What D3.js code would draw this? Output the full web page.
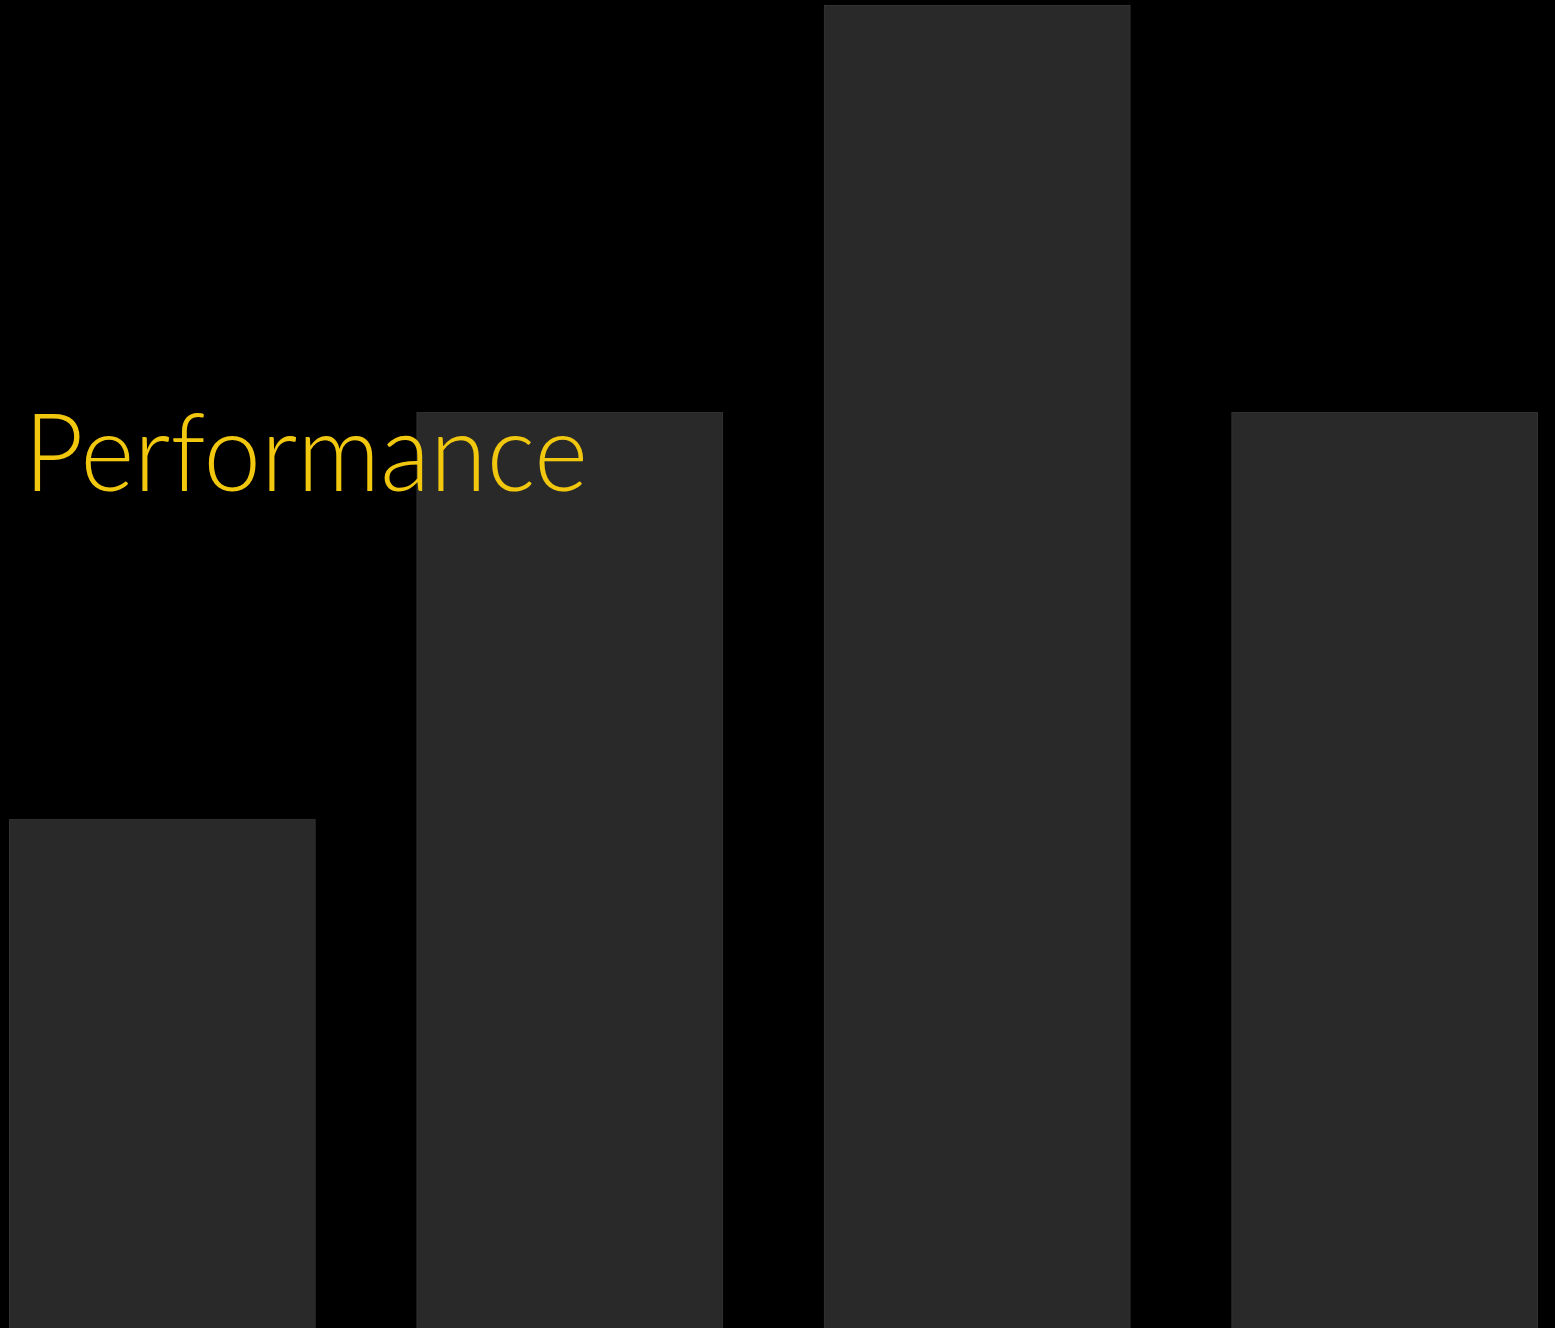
<!DOCTYPE html>
<html>
<head>
<meta charset="utf-8">
<script src="https://cdn.jsdelivr.net/npm/d3@7"></script>
<style>
  html, body { margin: 0; padding: 0; background: #000; overflow: hidden; }
  svg { display: block; }
</style>
</head>
<body>
<svg id="chart" width="1555" height="1328"></svg>
<script>
const categories = ["A", "B", "C", "D"];
const values = [2.5, 4.5, 6.5, 4.5];
const title = "Performance";

const W = 1555, H = 1328;
const svg = d3.select("#chart");
svg.append("rect").attr("width", W).attr("height", H).attr("fill", "#000");

const x = d3.scaleBand().domain(categories).range([9.5, 1537.5]).paddingInner(0.25).paddingOuter(0);
const y = d3.scaleLinear().domain([0, d3.max(values)]).range([H + 0.5, 5.5]);

svg.append("g").selectAll("rect")
  .data(categories.map((c, i) => ({ c, v: values[i] })))
  .join("rect")
  .attr("x", d => x(d.c))
  .attr("y", d => y(d.v))
  .attr("width", x.bandwidth())
  .attr("height", d => y(0) - y(d.v))
  .attr("fill", "#292929")
  .attr("stroke", "#333")
  .attr("stroke-width", 1);

const t = svg.append("text")
  .attr("x", 24)
  .attr("y", 491)
  .attr("fill", "#F2C80F")
  .style("font-family", "Lato, 'Open Sans', sans-serif")
  .style("font-weight", 300)
  .style("font-size", "108px")
  .text(title);
const len = t.node().getComputedTextLength();
const target = 564;
if (Math.abs(len - target) > 4) {
  t.attr("textLength", target).attr("lengthAdjust", "spacingAndGlyphs");
}
</script>
</body>
</html>
